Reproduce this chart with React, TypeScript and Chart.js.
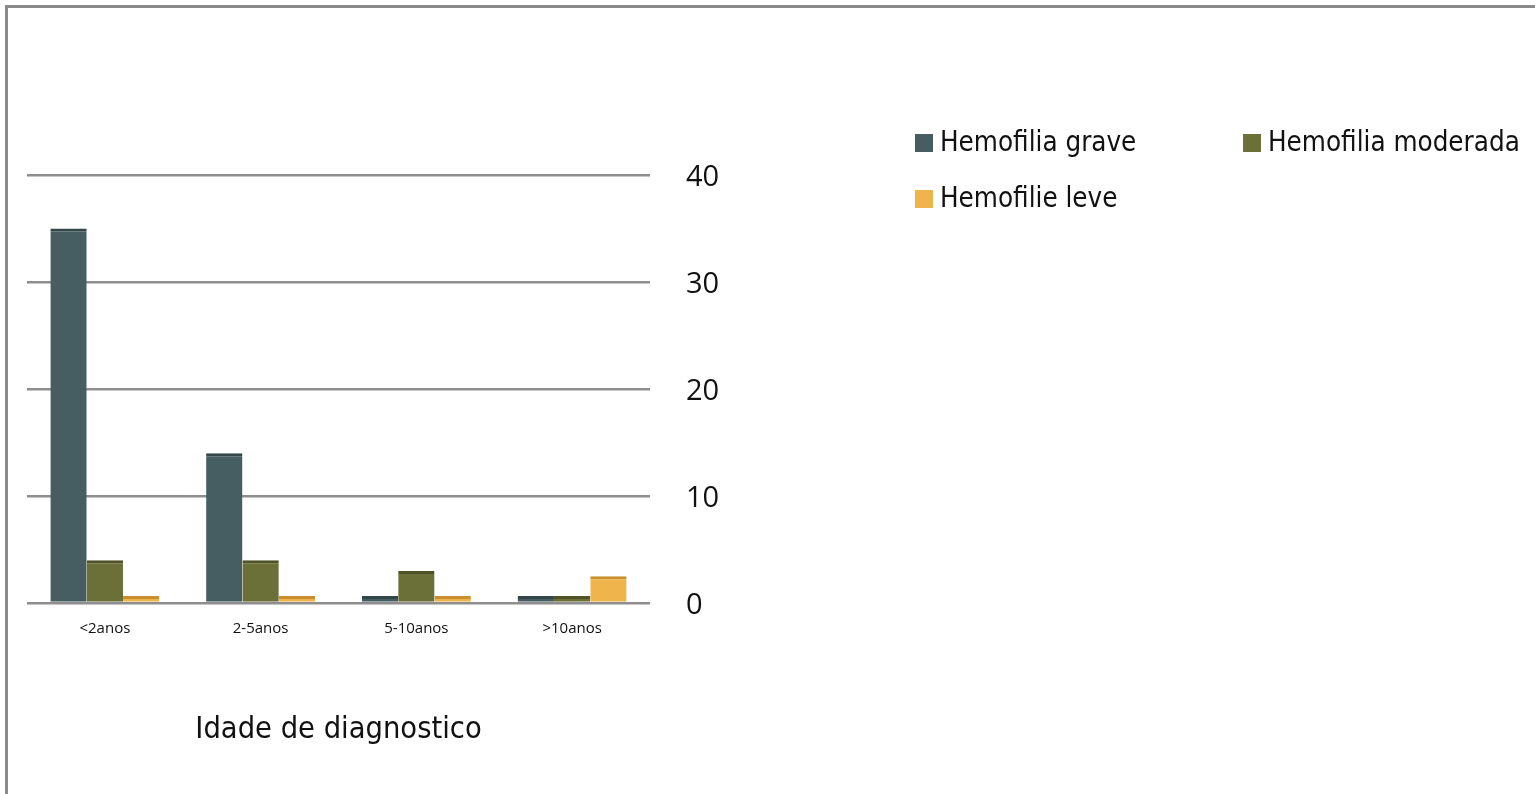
import React, { useEffect, useRef } from "react";
import { Chart, registerables } from "chart.js";

Chart.register(...registerables);

const categories = ["<2anos", "2-5anos", "5-10anos", ">10anos"];
const seriesNames = ["Hemofilia grave", "Hemofilia moderada", "Hemofilie leve"];
const graveValues = [35, 14, 0, 0];
const moderadaValues = [4, 4, 3, 0];
const leveValues = [0, 0, 0, 2.5];
const yTicks = [0, 10, 20, 30, 40];
const xTitle = "Idade de diagnostico";

const colors = ["#465d61", "#6a7038", "#f0b44c"];
const topColors = ["#33464a", "#4f5428", "#c98f2f"];

const condensed = "'Liberation Sans Narrow', 'DejaVu Sans Condensed', 'Roboto Condensed', 'Open Sans', sans-serif";

const legendPositions = [
  { x: 915, y: 143 },
  { x: 1243, y: 143 },
  { x: 915, y: 199 },
];

const legendPlugin = {
  id: "customLegend",
  afterDraw(chart: any) {
    const ctx = chart.ctx;
    ctx.save();
    ctx.font = `27.5px ${condensed}`;
    ctx.textBaseline = "middle";
    ctx.textAlign = "left";
    chart.data.datasets.forEach((ds: any, i: number) => {
      const p = legendPositions[i];
      ctx.fillStyle = ds.backgroundColor;
      ctx.fillRect(p.x, p.y - 9, 18, 18);
      ctx.fillStyle = "#111";
      ctx.fillText(ds.label, p.x + 25, p.y + 1);
    });
    ctx.restore();
  },
};

export default function App() {
  const ref = useRef<HTMLCanvasElement | null>(null);
  useEffect(() => {
    if (!ref.current) return;
    const valuesList = [graveValues, moderadaValues, leveValues];
    const chart = new Chart(ref.current, {
      type: "bar",
      data: {
        labels: categories,
        datasets: seriesNames.map((name, i) => ({
          label: name,
          data: valuesList[i],
          backgroundColor: colors[i],
          borderColor: topColors[i],
          borderWidth: { top: 3, left: 0, right: 0, bottom: 0 },
          borderSkipped: false,
          minBarLength: 7,
          categoryPercentage: 0.7,
          barPercentage: 1.0,
        })),
      },
      options: {
        responsive: false,
        animation: false,
        layout: { padding: { left: 27, right: 805, top: 175, bottom: 0 } },
        plugins: { legend: { display: false }, tooltip: { enabled: false } },
        scales: {
          x: {
            grid: { display: false },
            border: { display: false },
            ticks: {
              color: "#111",
              padding: 9,
              font: { family: "'Open Sans', sans-serif", size: 15 },
            },
            title: {
              display: true,
              text: xTitle,
              color: "#111",
              font: { family: condensed, size: 30.5 },
              padding: { top: 0, bottom: 46 },
            },
            afterFit: (scale: any) => {
              scale.height = 191;
            },
          },
          y: {
            position: "right",
            min: 0,
            max: 40,
            afterBuildTicks: (scale: any) => {
              scale.ticks = yTicks.map((v) => ({ value: v }));
            },
            afterFit: (scale: any) => {
              scale.width = 80;
            },
            grid: { color: "#8e8e8e", lineWidth: 2.5, drawTicks: false },
            border: { display: false },
            ticks: {
              color: "#111",
              padding: 36,
              labelOffset: 3,
              font: { family: "'Open Sans', sans-serif", size: 29 },
            },
          },
        },
      },
      plugins: [legendPlugin],
    });
    return () => chart.destroy();
  }, []);

  return (
    <div style={{ position: "fixed", left: 0, top: 0, width: 1535, height: 794, background: "#fff" }}>
      <div
        style={{
          position: "absolute",
          left: 5,
          top: 5,
          right: -10,
          bottom: -10,
          borderTop: "3px solid #8a8a8a",
          borderLeft: "3px solid #8a8a8a",
        }}
      />
      <canvas ref={ref} width={1535} height={794} style={{ position: "absolute", left: 0, top: 0 }} />
    </div>
  );
}
